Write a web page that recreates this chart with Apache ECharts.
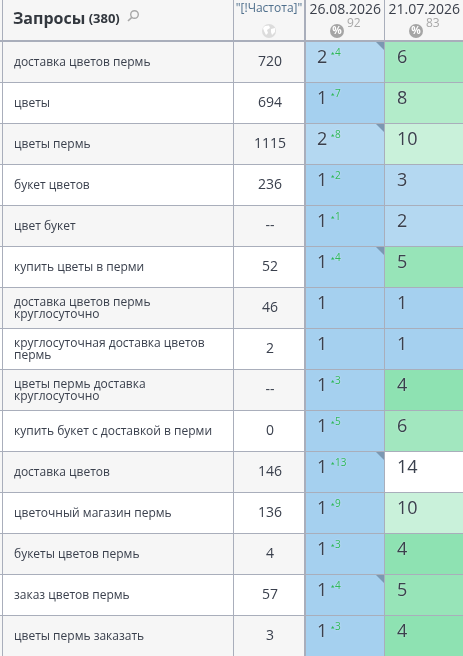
<!DOCTYPE html>
<html>
<head>
    <meta charset="UTF-8">
    <title>Запросы</title>
    <script src="https://cdn.jsdelivr.net/npm/echarts@6/dist/echarts.min.js"></script>
    <style>html, body { margin: 0; padding: 0; background: #fff; }</style>
</head>
<body>
    <div id="main" style="width: 463px; height: 656px;"></div>
    <script type="text/javascript">
        // table values
        const queries = [
            'доставка цветов пермь', 'цветы', 'цветы пермь', 'букет цветов', 'цвет букет',
            'купить цветы в перми', 'доставка цветов пермь\nкруглосуточно',
            'круглосуточная доставка цветов\nпермь', 'цветы пермь доставка\nкруглосуточно',
            'купить букет с доставкой в перми', 'доставка цветов', 'цветочный магазин пермь',
            'букеты цветов пермь', 'заказ цветов пермь', 'цветы пермь заказать'
        ];
        const frequency = ['720', '694', '1115', '236', '--', '52', '46', '2', '--', '0', '146', '136', '4', '57', '3'];
        const ranksAug = [2, 1, 2, 1, 1, 1, 1, 1, 1, 1, 1, 1, 1, 1, 1];
        const deltasAug = [4, 7, 8, 2, 1, 4, 0, 0, 3, 5, 13, 9, 3, 4, 3];
        const flaggedAug = [1, 0, 1, 0, 0, 1, 0, 0, 0, 0, 1, 0, 0, 1, 0];
        const ranksJul = [6, 8, 10, 3, 2, 5, 1, 1, 4, 6, 14, 10, 4, 5, 4];
        const dates = ['26.08.2026', '21.07.2026'];
        const percents = [92, 83];
        const totalQueries = 380;

        // rank -> cell colour
        const rankColors = {
            1: '#a5d0ef', 2: '#b4d8f1', 3: '#b4d8f1', 4: '#8ee2b2', 5: '#97e4b8', 6: '#a2e7bf',
            8: '#b3ecca', 10: '#c9f1da', 14: '#ffffff'
        };

        const FONT = '"Open Sans", sans-serif';
        const LINE = '#a9aebb';
        const TEXT = '#3a404d';
        const HEADER_H = 41;
        const edges = [0, 233, 305, 385, 463];

        let chart = echarts.init(document.getElementById('main'), null, {renderer: 'canvas'});

        // background + bottom line of one cell
        function cellBase(api, fill) {
            let c = api.coord([0, api.value(0)]);
            let size = api.size([1, 1]);
            let x = c[0] - size[0] / 2, y = c[1] - size[1] / 2;
            let yLine = Math.round(y + size[1]) + 0.5;
            return {
                x: x, y: y, w: size[0], h: size[1], cx: c[0], cy: c[1],
                children: [
                    {type: 'rect', shape: {x: x, y: y, width: size[0], height: size[1]}, style: {fill: fill}, z2: 1},
                    {type: 'line', shape: {x1: x, y1: yLine, x2: x + size[0], y2: yLine}, style: {stroke: LINE, lineWidth: 1}, z2: 5}
                ]
            };
        }

        function stripe(row) {
            return row % 2 === 0 ? '#f6f6f6' : '#ffffff';
        }

        function renderQuery(params, api) {
            let row = api.value(0);
            let b = cellBase(api, stripe(row));
            b.children.push({
                type: 'text', z2: 6,
                x: b.x + 14, y: b.cy + 1,
                style: {
                    text: queries[row], font: '12px ' + FONT, fill: TEXT,
                    lineHeight: 12, verticalAlign: 'middle', align: 'left'
                }
            });
            return {type: 'group', children: b.children};
        }

        function renderFrequency(params, api) {
            let row = api.value(0);
            let b = cellBase(api, stripe(row));
            b.children.push({
                type: 'text', z2: 6,
                x: b.cx + 1, y: b.cy + 1,
                style: {text: frequency[row], font: '14px ' + FONT, fill: TEXT, align: 'center', verticalAlign: 'middle'}
            });
            return {type: 'group', children: b.children};
        }

        function rankRenderer(ranks, deltas, flags, numX) {
            return function (params, api) {
                let row = api.value(0);
                let b = cellBase(api, rankColors[ranks[row]]);
                if (flags && flags[row]) {
                    let xr = b.x + b.w - 1, yt = b.y + 1;
                    b.children.push({
                        type: 'polygon', z2: 6,
                        shape: {points: [[xr - 8, yt], [xr, yt], [xr, yt + 8]]},
                        style: {fill: '#7b98b2'}
                    });
                }
                b.children.push({
                    type: 'text', z2: 6,
                    x: b.x + numX, y: b.y + 17,
                    style: {
                        text: String(ranks[row]), font: '18px ' + FONT, fill: TEXT,
                        align: 'left', verticalAlign: 'middle',
                        textShadowColor: 'rgba(255,255,255,0.5)', textShadowBlur: 2
                    }
                });
                if (deltas && deltas[row]) {
                    let tx = b.x + numX + 14, ty = b.y + 12;
                    b.children.push({
                        type: 'polygon', z2: 6,
                        shape: {points: [[tx, ty + 1.5], [tx + 3.4, ty + 1.5], [tx + 1.7, ty - 1]]},
                        style: {fill: '#2fb85a'}
                    }, {
                        type: 'text', z2: 6,
                        x: tx + 4, y: ty,
                        style: {
                            text: String(deltas[row]), font: '10px ' + FONT, fill: '#2fb85a',
                            align: 'left', verticalAlign: 'middle',
                            textShadowColor: 'rgba(255,255,255,0.6)', textShadowBlur: 2
                        }
                    });
                }
                return {type: 'group', children: b.children};
            };
        }

        const columns = [renderQuery, renderFrequency,
            rankRenderer(ranksAug, deltasAug, flaggedAug, 12),
            rankRenderer(ranksJul, null, null, 12)];

        // one grid per table column, rows come from the category axis
        let grids = [], xAxes = [], yAxes = [], series = [];
        columns.forEach((render, i) => {
            grids.push({left: edges[i], top: HEADER_H, width: edges[i + 1] - edges[i], height: 615});
            xAxes.push({gridIndex: i, type: 'category', data: [''], show: false});
            yAxes.push({gridIndex: i, type: 'category', data: queries, inverse: true, show: false});
            series.push({
                type: 'custom', xAxisIndex: i, yAxisIndex: i, renderItem: render, clip: false,
                encode: {x: 1, y: 0}, animation: false, silent: true,
                data: queries.map((q, row) => [row, 0])
            });
        });

        // header and column rules
        let graphicEls = [
            {type: 'rect', shape: {x: 0, y: 0, width: 463, height: HEADER_H}, style: {fill: '#f6f6f6'}},
            {type: 'text', x: 13, y: 19, style: {
                rich: {
                    a: {fontFamily: 'Open Sans', fontSize: 16, fontWeight: 'bold', fill: '#33383f'},
                    b: {fontFamily: 'Open Sans', fontSize: 13, fontWeight: 'bold', fill: '#33383f'}
                },
                text: '{a|Запросы} {b|(' + totalQueries + ')}', verticalAlign: 'middle'
            }},
            // search icon
            {type: 'circle', shape: {cx: 134.5, cy: 14.5, r: 3.8}, style: {fill: 'none', stroke: '#a8a8a8', lineWidth: 1.4}},
            {type: 'line', shape: {x1: 131.8, y1: 17.4, x2: 128, y2: 21}, style: {stroke: '#a8a8a8', lineWidth: 1.6}},
            {type: 'text', x: 269, y: 9, style: {text: '"[!Частота]"', font: '12px ' + FONT, fill: '#4f6f8c', align: 'center', verticalAlign: 'middle'}},
            // globe icon
            {type: 'circle', shape: {cx: 269, cy: 31, r: 7}, style: {fill: '#dcdcdc'}},
            {type: 'polygon', shape: {points: [[265, 26], [269, 25.5], [270, 28], [267, 30], [268, 33], [266, 35], [264, 31], [263, 28]]}, style: {fill: '#fff'}},
            {type: 'polygon', shape: {points: [[271, 29], [275, 28], [275, 32], [272, 35], [271, 32]]}, style: {fill: '#fff'}}
        ];
        [[309.5, 337], [388.5, 416]].forEach((pos, i) => {
            graphicEls.push(
                {type: 'text', x: pos[0], y: 10, style: {text: dates[i], font: '14px ' + FONT, fill: '#3a3f4a', align: 'left', verticalAlign: 'middle'}},
                {type: 'circle', shape: {cx: pos[1], cy: 31, r: 7}, style: {fill: '#a5a5a5'}},
                {type: 'text', x: pos[1], y: 31, style: {text: '%', font: 'bold 10.5px ' + FONT, fill: '#fff', align: 'center', verticalAlign: 'middle'}},
                {type: 'text', x: pos[1] + 10, y: 24, style: {text: String(percents[i]), font: '12px ' + FONT, fill: '#a8a8a8', align: 'left', verticalAlign: 'middle'}}
            );
        });
        graphicEls.push(
            {type: 'rect', shape: {x: 0, y: 40, width: 463, height: 2}, style: {fill: LINE}},
            {type: 'rect', shape: {x: 2, y: 0, width: 1, height: 656}, style: {fill: LINE}},
            {type: 'rect', shape: {x: 233, y: 0, width: 1, height: 656}, style: {fill: LINE}},
            {type: 'rect', shape: {x: 304, y: 0, width: 2, height: 656}, style: {fill: LINE}},
            {type: 'rect', shape: {x: 384, y: 0, width: 1, height: 656}, style: {fill: LINE}}
        );

        chart.setOption({
            animation: false,
            backgroundColor: '#ffffff',
            grid: grids,
            xAxis: xAxes,
            yAxis: yAxes,
            series: series,
            graphic: {elements: graphicEls.map(el => Object.assign({z: 100, silent: true}, el))}
        });
    </script>
</body>
</html>
